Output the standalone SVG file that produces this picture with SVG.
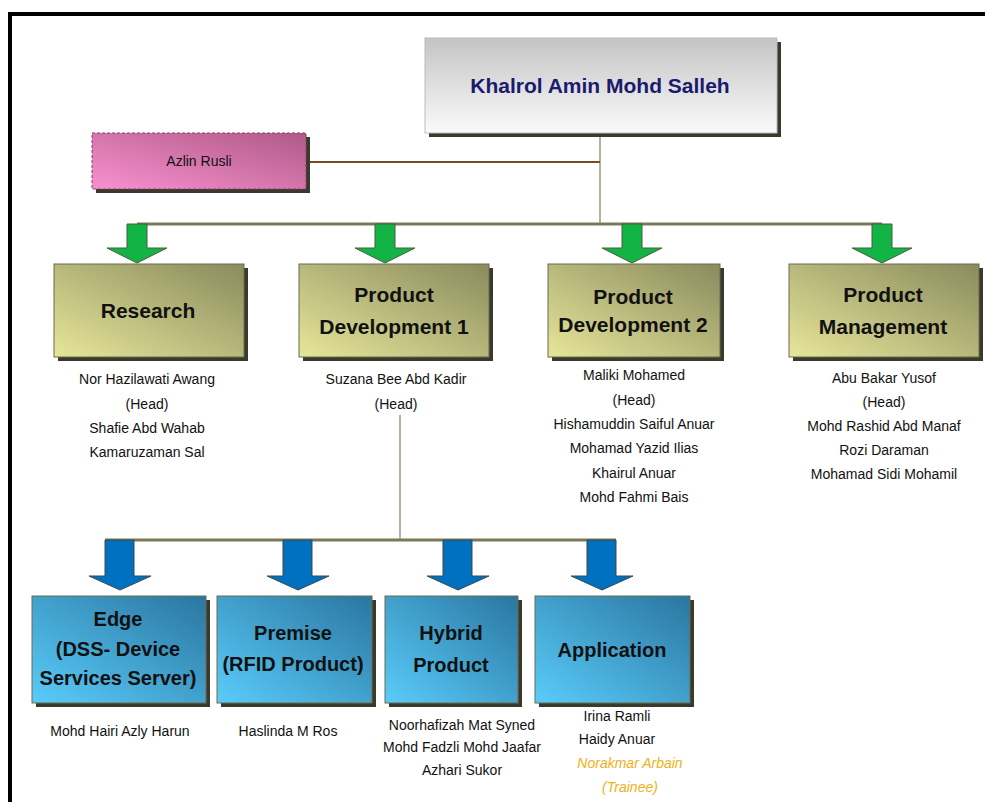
<svg xmlns="http://www.w3.org/2000/svg" width="985" height="802" viewBox="0 0 985 802">
<defs>
<linearGradient id="gGray" x1="0" y1="0" x2="0" y2="1"><stop offset="0" stop-color="#c4c4c4"/><stop offset="1" stop-color="#fafafa"/></linearGradient>
<linearGradient id="gPink" x1="0" y1="1" x2="1" y2="0"><stop offset="0" stop-color="#f890d0"/><stop offset="1" stop-color="#b05a88"/></linearGradient>
<linearGradient id="gKhaki" x1="0" y1="1" x2="1" y2="0"><stop offset="0" stop-color="#e6e69a"/><stop offset="1" stop-color="#8a8a5e"/></linearGradient>
<linearGradient id="gBlue" x1="0" y1="1" x2="1" y2="0"><stop offset="0" stop-color="#5accfa"/><stop offset="1" stop-color="#2a76a0"/></linearGradient>
</defs>
<style>
text{font-family:"Liberation Sans",Arial,sans-serif;text-anchor:middle}
.shadow{fill:#3a3a2c}
.box{stroke:#6a6a50;stroke-width:1}
.title{font-size:21px;font-weight:bold;fill:#1a1a6e}
.lvl{font-size:21px;font-weight:bold;fill:#111}
.sub{font-size:20px;font-weight:bold;fill:#111}
.nm{font-size:14px;fill:#111}
.tr{font-size:14px;fill:#f0b020;font-style:italic}
.conn{fill:none;stroke:#9a9a7a;stroke-width:1.5}
.green{fill:#12b446;stroke:#4a5a3a;stroke-width:1}
.blue{fill:#0070c0;stroke:#3a4a4a;stroke-width:1}
</style>
<rect x="0" y="0" width="985" height="802" fill="#fff"/>
<rect x="10" y="14" width="990" height="800" fill="none" stroke="#000" stroke-width="4"/>

<g id="connectors">
<line x1="600" y1="133" x2="600" y2="224" class="conn"/>
<line x1="308" y1="162" x2="600" y2="162" stroke="#7a4a20" stroke-width="2"/>
<line x1="137" y1="224" x2="882" y2="224" stroke="#7a7a5a" stroke-width="3"/>
<path class="green" d="M127,224 H147 V248 H167 L137,263 L107,248 H127 Z"/>
<path class="green" d="M375,224 H395 V248 H415 L385,263 L355,248 H375 Z"/>
<path class="green" d="M622,224 H642 V248 H662 L632,263 L602,248 H622 Z"/>
<path class="green" d="M872,224 H892 V248 H912 L882,263 L852,248 H872 Z"/>
<line x1="400" y1="415" x2="400" y2="540" class="conn"/>
<line x1="105" y1="540" x2="616" y2="540" stroke="#7a7a5a" stroke-width="3"/>
<path class="blue" d="M105,540 H134 V576 H151 L120,590 L89,576 H105 Z"/>
<path class="blue" d="M283,540 H312 V576 H329 L298,590 L267,576 H283 Z"/>
<path class="blue" d="M443,540 H472 V576 H489 L458,590 L427,576 H443 Z"/>
<path class="blue" d="M587,540 H616 V576 H633 L602,590 L571,576 H587 Z"/>
</g>

<g id="ceo">
<rect x="429" y="42" width="352" height="95" class="shadow"/>
<rect x="425" y="38" width="352" height="95" fill="url(#gGray)" stroke="#bbb"/>
<text x="600" y="93" class="title">Khalrol Amin Mohd Salleh</text>
</g>
<g id="azlin">
<rect x="96" y="137" width="214" height="56" class="shadow"/>
<rect x="92" y="133" width="214" height="56" fill="url(#gPink)" stroke="#8a3a6a" stroke-dasharray="3,2"/>
<text x="199" y="166" font-size="14" fill="#111">Azlin Rusli</text>
</g>

<g id="research">
<rect x="58" y="268" width="190" height="93" class="shadow"/>
<rect x="54" y="264" width="190" height="93" fill="url(#gKhaki)" class="box"/>
<text x="148" y="318" class="lvl">Research</text>
<text class="nm" x="147" y="384">Nor Hazilawati Awang</text>
<text class="nm" x="147" y="409">(Head)</text>
<text class="nm" x="147" y="433">Shafie Abd Wahab</text>
<text class="nm" x="147" y="457">Kamaruzaman Sal</text>
</g>
<g id="pd1">
<rect x="303" y="268" width="190" height="93" class="shadow"/>
<rect x="299" y="264" width="190" height="93" fill="url(#gKhaki)" class="box"/>
<text x="394" y="302" class="lvl">Product</text>
<text x="394" y="334" class="lvl">Development 1</text>
<text class="nm" x="396" y="384">Suzana Bee Abd Kadir</text>
<text class="nm" x="396" y="409">(Head)</text>
</g>
<g id="pd2">
<rect x="552" y="268" width="172" height="93" class="shadow"/>
<rect x="548" y="264" width="172" height="93" fill="url(#gKhaki)" class="box"/>
<text x="633" y="304" class="lvl">Product</text>
<text x="633" y="332" class="lvl">Development 2</text>
<text class="nm" x="634" y="380">Maliki Mohamed</text>
<text class="nm" x="634" y="405">(Head)</text>
<text class="nm" x="634" y="429">Hishamuddin Saiful Anuar</text>
<text class="nm" x="634" y="453">Mohamad Yazid Ilias</text>
<text class="nm" x="634" y="478">Khairul Anuar</text>
<text class="nm" x="634" y="502">Mohd Fahmi Bais</text>
</g>
<g id="pm">
<rect x="793" y="268" width="190" height="93" class="shadow"/>
<rect x="789" y="264" width="190" height="93" fill="url(#gKhaki)" class="box"/>
<text x="883" y="302" class="lvl">Product</text>
<text x="883" y="334" class="lvl">Management</text>
<text class="nm" x="884" y="383">Abu Bakar Yusof</text>
<text class="nm" x="884" y="407">(Head)</text>
<text class="nm" x="884" y="431">Mohd Rashid Abd Manaf</text>
<text class="nm" x="884" y="455">Rozi Daraman</text>
<text class="nm" x="884" y="479">Mohamad Sidi Mohamil</text>
</g>

<g id="edge">
<rect x="36" y="600" width="174" height="107" class="shadow"/>
<rect x="32" y="596" width="174" height="107" fill="url(#gBlue)" class="box"/>
<text x="118" y="626" class="sub">Edge</text>
<text x="118" y="656" class="sub">(DSS- Device</text>
<text x="118" y="685" class="sub">Services Server)</text>
<text class="nm" x="120" y="736">Mohd Hairi Azly Harun</text>
</g>
<g id="premise">
<rect x="221" y="600" width="155" height="107" class="shadow"/>
<rect x="217" y="596" width="155" height="107" fill="url(#gBlue)" class="box"/>
<text x="293" y="640" class="sub">Premise</text>
<text x="293" y="671" class="sub">(RFID Product)</text>
<text class="nm" x="288" y="736">Haslinda M Ros</text>
</g>
<g id="hybrid">
<rect x="389" y="600" width="133" height="107" class="shadow"/>
<rect x="385" y="596" width="133" height="107" fill="url(#gBlue)" class="box"/>
<text x="451" y="640" class="sub">Hybrid</text>
<text x="451" y="672" class="sub">Product</text>
<text class="nm" x="462" y="730">Noorhafizah Mat Syned</text>
<text class="nm" x="462" y="752">Mohd Fadzli Mohd Jaafar</text>
<text class="nm" x="462" y="775">Azhari Sukor</text>
</g>
<g id="application">
<rect x="539" y="600" width="155" height="107" class="shadow"/>
<rect x="535" y="596" width="155" height="107" fill="url(#gBlue)" class="box"/>
<text x="612" y="657" class="sub">Application</text>
<text class="nm" x="617" y="721">Irina Ramli</text>
<text class="nm" x="617" y="744">Haidy Anuar</text>
<text class="tr" x="630" y="768">Norakmar Arbain</text>
<text class="tr" x="630" y="792">(Trainee)</text>
</g>
</svg>
